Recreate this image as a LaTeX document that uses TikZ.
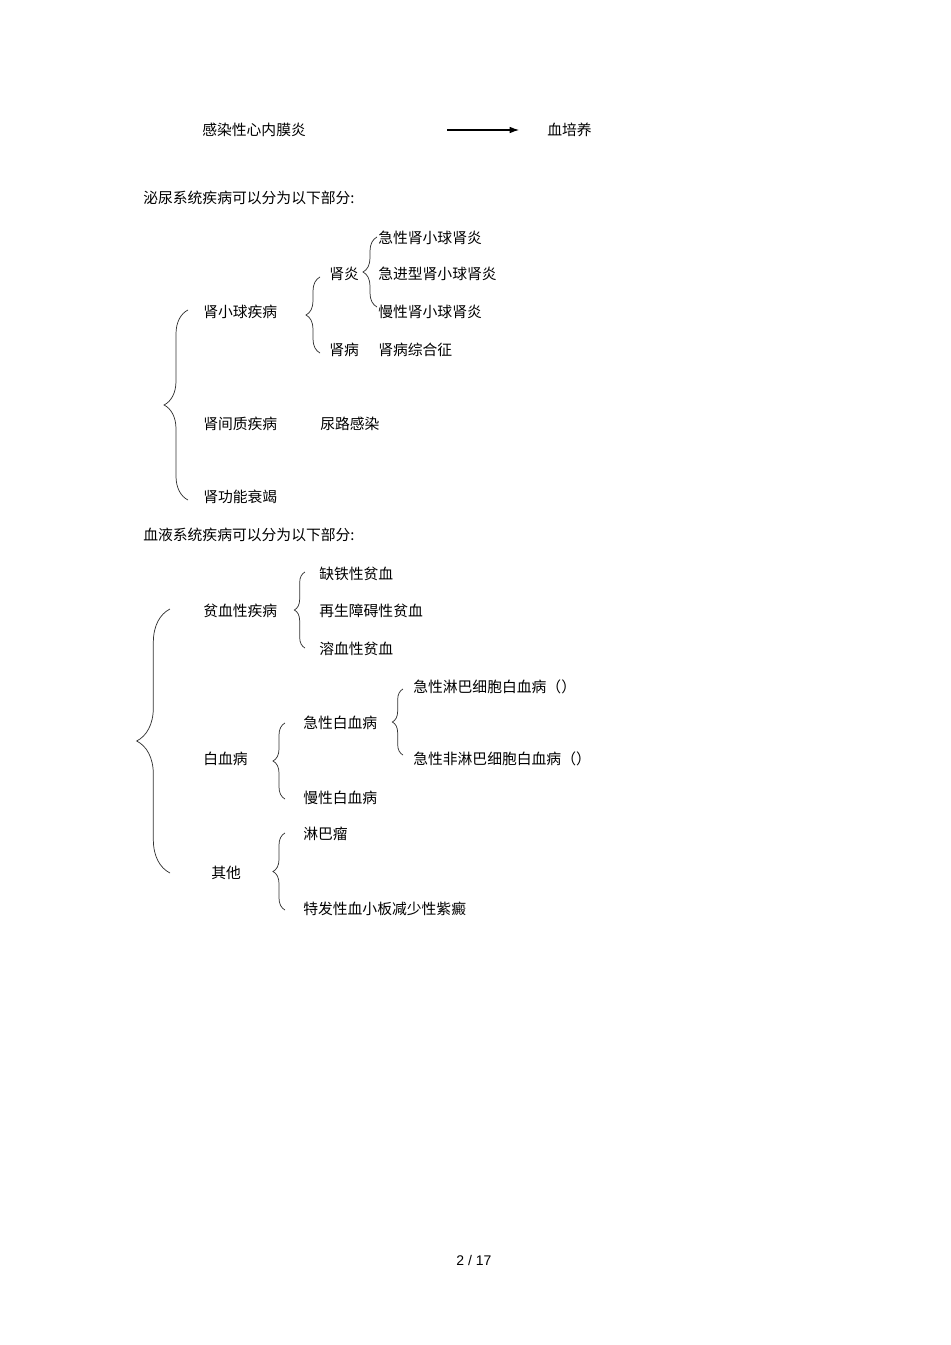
\documentclass[tikz,border=0pt]{standalone}
\usepackage{fontspec}
\setmainfont{Noto Sans CJK SC}
\newfontfamily\pagefont{Liberation Sans}
\usetikzlibrary{decorations.pathreplacing,arrows.meta}

\tikzset{
  txt/.style={anchor=west,inner sep=0pt,yshift=-0.75pt,font=\fontsize{11.1}{13}\selectfont},
  curly/.style={decorate,decoration={brace,amplitude=#1},draw=black!80,line width=0.55pt},
  arrowline/.style={-{Latex[length=7pt,width=5pt]},line width=0.8pt},
}

\begin{document}
\begin{tikzpicture}[x=0.75pt,y=0.75pt,yscale=-1,xscale=1]
        \useasboundingbox (0,0) rectangle (950,1345);

        % first line
        \node[txt] (gr) at (202,129) {感染性心内膜炎};
        \node[txt] (pei) at (547,129) {血培养};
        \coordinate (arrS) at (447,129);
        \draw[arrowline] (arrS |- pei.west) -- ([xshift=-21pt]pei.west);

        % urinary system
        \node[txt] (mn) at (143,197) {泌尿系统疾病可以分为以下部分:};
        \node[txt] (xqb) at (203,311) {肾小球疾病};
        \node[txt] (sy) at (329,273) {肾炎};
        \node[txt] (sb) at (329,349) {肾病};
        \node[txt] (jx) at (378,237) {急性肾小球肾炎};
        \node[txt] (jj) at (378,273) {急进型肾小球肾炎};
        \node[txt] (mx) at (378,311) {慢性肾小球肾炎};
        \node[txt] (zh) at (378,349) {肾病综合征};
        \node[txt] (jz) at (203,423) {肾间质疾病};
        \node[txt] (nl) at (320,423) {尿路感染};
        \node[txt] (sj) at (203,496) {肾功能衰竭};

        \draw[curly=18pt] (188,500) -- (188,310);
        \draw[curly=10.5pt] (320,353) -- (320,277);
        \draw[curly=10.5pt] (377,307) -- (377,237);

        % blood system
        \node[txt] (xy) at (143,534) {血液系统疾病可以分为以下部分:};
        \node[txt] (px) at (203,610) {贫血性疾病};
        \node[txt] (qt) at (319,573) {缺铁性贫血};
        \node[txt] (zs) at (319,610) {再生障碍性贫血};
        \node[txt] (rx) at (319,648) {溶血性贫血};
        \node[txt] (bx) at (203,758) {白血病};
        \node[txt] (jb) at (303,722) {急性白血病};
        \node[txt] (mb) at (303,797) {慢性白血病};
        \node[txt] (jl) at (413,686) {急性淋巴细胞白血病（）};
        \node[txt] (jf) at (413,758) {急性非淋巴细胞白血病（）};
        \node[txt] (qd) at (211,872) {其他};
        \node[txt] (lb) at (303,833) {淋巴瘤};
        \node[txt] (tf) at (303,908) {特发性血小板减少性紫癜};

        \draw[curly=25pt] (170,873) -- (170,609);
        \draw[curly=8pt] (305,648) -- (305,572);
        \draw[curly=8pt] (403,755) -- (403,689);
        \draw[curly=9pt] (285,799) -- (285,723);
        \draw[curly=9pt] (285,910) -- (285,833);

        % page number
        \node[font=\pagefont\fontsize{10.5}{12}\selectfont,inner sep=0pt] (pg) at (474,1260.5) {2 / 17};
\end{tikzpicture}
\end{document}
